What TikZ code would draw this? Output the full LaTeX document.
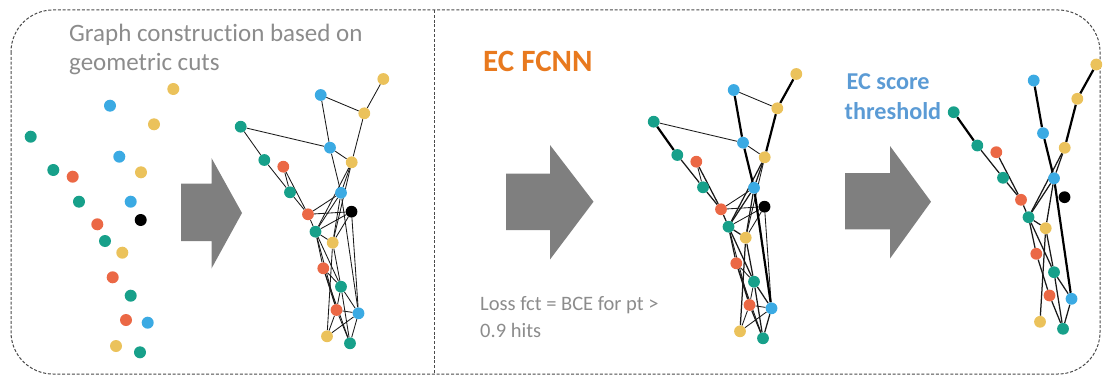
\documentclass[tikz,border=0pt]{standalone}
\usepackage{fontspec}
\setmainfont{Carlito}[Ligatures=NoCommon]

\definecolor{hitgreen}{HTML}{17A08A}
\definecolor{hitblue}{HTML}{3BAAE3}
\definecolor{hityellow}{HTML}{EBC25B}
\definecolor{hitred}{HTML}{EB6845}
\definecolor{txtgray}{HTML}{8C8C8C}
\definecolor{arrowgray}{HTML}{7F7F7F}
\definecolor{fcnnorange}{HTML}{E8791E}
\definecolor{scoreblue}{HTML}{5B9BD5}
\definecolor{framegray}{HTML}{4A4A4A}

\pgfdeclarelayer{edgelayer}
\pgfsetlayers{edgelayer,main}

\tikzset{
  hit/.style={circle,inner sep=0pt,minimum size=11.8pt,draw=none},
  dot/.style={circle,inner sep=0pt,minimum size=12pt,draw=none},
  hg/.style={hit,fill=hitgreen}, hb/.style={hit,fill=hitblue},
  hy/.style={hit,fill=hityellow}, hr/.style={hit,fill=hitred},
  hk/.style={hit,fill=black},
  thinedge/.style={draw=black!90,line width=0.85pt},
  midedge/.style={draw=black!90,line width=1.25pt},
  boldedge/.style={draw=black,line width=2.2pt},
  frame/.style={draw=framegray,line width=1pt,dash pattern=on 3pt off 1.8pt},
  blockarrow/.style={fill=arrowgray,draw=none},
  lbl/.style={inner sep=0pt,anchor=base west},
}

% hits of one event, laid out as a graph
\newcommand\hitgraphnodes{%
  \node[hy] (Y1) at (383.3,79) {};
  \node[hb] (B1) at (320.7,95) {};
  \node[hy] (Y2) at (364.3,113.3) {};
  \node[hg] (G1) at (240.7,126.7) {};
  \node[hb] (B2) at (330,147.7) {};
  \node[hg] (G2) at (264.3,160) {};
  \node[hr] (R1) at (283.3,166.7) {};
  \node[hy] (Y3) at (351.7,162.3) {};
  \node[hg] (G3) at (290,192.3) {};
  \node[hb] (B3) at (341,192.8) {};
  \node[hr] (R2) at (308,214.3) {};
  \node[hk] (K)  at (351.5,211.7) {};
  \node[hg] (G4) at (315.5,231.7) {};
  \node[hy] (Y4) at (332.7,242.7) {};
  \node[hr] (R3) at (323.3,268.3) {};
  \node[hg] (G5) at (341,286.7) {};
  \node[hr] (R4) at (336.5,310) {};
  \node[hb] (B4) at (358.5,313.3) {};
  \node[hy] (Y5) at (327,336.3) {};
  \node[hg] (G6) at (350,343.3) {};
}
% true segments with high score
\newcommand\strongedges{Y1/Y2,Y2/Y3,B1/B2,B2/B3,G1/G2,B3/B4}
% segments kept after the score cut
\newcommand\keptedges{G2/G3,R1/R2,G3/R2,R2/G4,Y3/B3,Y3/G4,B3/G4,B3/Y4,G4/Y4,Y4/Y5,G4/R3,G4/G5,R3/R4,Y4/G5,G5/B4,G5/G6,R4/G6,B4/G6}
% segments removed by the score cut
\newcommand\cutedges{B1/Y2,G1/B2,B2/Y3,R1/G3,Y3/Y4,R2/K,R2/B3,K/Y4,K/G4,K/B4,G4/R4,R3/G5,R3/G6,G5/R4,R4/Y5,R4/B4,Y5/B4}

\begin{document}
\begin{tikzpicture}[x=1pt,y=-1pt]
\useasboundingbox (0,0) rectangle (1107,377);

% outer frame and divider
\draw[frame,rounded corners=42pt] (11,10) rectangle (1100,374);
\draw[frame] (434,10) -- (434,374);

% labels
\node[lbl,text=txtgray,font=\fontsize{25}{30}\selectfont] (cap1) at (69,41.5) {Graph construction based on};
\node[lbl,text=txtgray,font=\fontsize{25}{30}\selectfont] (cap2) at (69,71) {geometric cuts};
\node[lbl,text=fcnnorange,font=\bfseries\fontsize{31}{36}\selectfont] (fcnn) at (483,72) {EC FCNN};
\node[lbl,text=scoreblue,font=\bfseries\fontsize{24.2}{29}\selectfont] (score1) at (846.5,90) {EC score};
\node[lbl,text=scoreblue,font=\bfseries\fontsize{24.2}{29}\selectfont] (score2) at (844.5,119) {threshold};
\node[lbl,text=txtgray,font=\fontsize{20.5}{24}\selectfont] (loss1) at (480,310) {Loss fct = BCE for pt >};
\node[lbl,text=txtgray,font=\fontsize{20.5}{24}\selectfont] (loss2) at (480,337) {0.9 hits};

% raw hits
\node[dot,fill=hityellow] (s1)  at (173.3,89) {};
\node[dot,fill=hitblue]   (s2)  at (110,105.7) {};
\node[dot,fill=hityellow] (s3)  at (154,124.3) {};
\node[dot,fill=hitgreen]  (s4)  at (30.7,136.7) {};
\node[dot,fill=hitblue]   (s5)  at (119.3,156.7) {};
\node[dot,fill=hitgreen]  (s6)  at (53.3,170) {};
\node[dot,fill=hitred]    (s7)  at (72.7,176.7) {};
\node[dot,fill=hityellow] (s8)  at (141,172.3) {};
\node[dot,fill=hitgreen]  (s9)  at (79,201.7) {};
\node[dot,fill=hitblue]   (s10) at (130.7,201.7) {};
\node[dot,fill=hitred]    (s11) at (97.3,224.3) {};
\node[dot,fill=black]     (s12) at (140.7,220) {};
\node[dot,fill=hitgreen]  (s13) at (105,241) {};
\node[dot,fill=hityellow] (s14) at (122.3,252.7) {};
\node[dot,fill=hitred]    (s15) at (112.7,277.3) {};
\node[dot,fill=hitgreen]  (s16) at (130.7,295.7) {};
\node[dot,fill=hitred]    (s17) at (126,320) {};
\node[dot,fill=hitblue]   (s18) at (147.7,322.7) {};
\node[dot,fill=hityellow] (s19) at (116,346) {};
\node[dot,fill=hitgreen]  (s20) at (140,352.3) {};

% block arrows
\fill[blockarrow] (181,183.5) -- (211.5,183.5) -- (211.5,158) -- (242,213) -- (211.5,268.5) -- (211.5,241) -- (181,241) -- cycle;
\fill[blockarrow] (506,173.5) -- (550,173.5) -- (550,145) -- (593.5,201.7) -- (550,259.5) -- (550,230) -- (506,230) -- cycle;
\fill[blockarrow] (845,173) -- (890,173) -- (890,146) -- (931,201.7) -- (890,258.5) -- (890,229.3) -- (845,229.3) -- cycle;

% full graph
\begin{scope}[name prefix=a-]
  \hitgraphnodes
  \begin{pgfonlayer}{edgelayer}
    \foreach \p/\q in \strongedges {\draw[thinedge] (\p) -- (\q);}
    \foreach \p/\q in \keptedges {\draw[thinedge] (\p) -- (\q);}
    \foreach \p/\q in \cutedges {\draw[thinedge] (\p) -- (\q);}
  \end{pgfonlayer}
\end{scope}

% graph with edge scores
\begin{scope}[shift={(413,-5)},name prefix=b-]
  \hitgraphnodes
  \begin{pgfonlayer}{edgelayer}
    \foreach \p/\q in \cutedges {\draw[thinedge] (\p) -- (\q);}
    \foreach \p/\q in \keptedges {\draw[midedge] (\p) -- (\q);}
    \foreach \p/\q in \strongedges {\draw[boldedge] (\p) -- (\q);}
  \end{pgfonlayer}
\end{scope}

% graph after the score threshold
\begin{scope}[shift={(713,-14.5)},name prefix=c-]
  \hitgraphnodes
  \begin{pgfonlayer}{edgelayer}
    \foreach \p/\q in \keptedges {\draw[midedge] (\p) -- (\q);}
    \foreach \p/\q in \strongedges {\draw[boldedge] (\p) -- (\q);}
  \end{pgfonlayer}
\end{scope}
\end{tikzpicture}
\end{document}
